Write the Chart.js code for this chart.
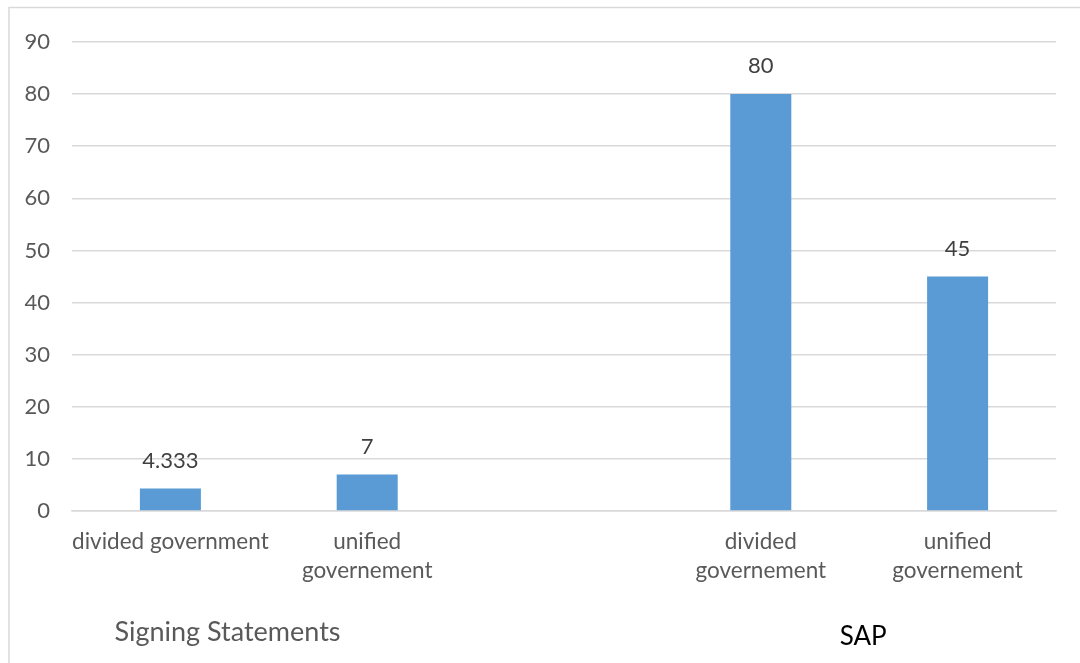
<!DOCTYPE html>
<html>
<head>
<meta charset="utf-8">
<script src="https://cdn.jsdelivr.net/npm/chart.js@4"></script>
<style>
  html, body { margin: 0; padding: 0; background: #fff; }
  #wrap { width: 1080px; height: 663px; }
</style>
</head>
<body>
<div id="wrap"><canvas id="myChart" width="1080" height="663"></canvas></div>
<script>
// category labels (middle slot is the gap between the two groups)
const categories = [
  ["divided government"],
  ["unified", "governement"],
  "",
  ["divided", "governement"],
  ["unified", "governement"],
];
const values = [4.333, 7, null, 80, 45];
const groupNames = ["Signing Statements", "SAP"];
const yTicks = [0, 10, 20, 30, 40, 50, 60, 70, 80, 90];

const FONT = "Lato, 'Noto Sans', sans-serif";

// border round the whole chart, like the Excel frame
const framePlugin = {
  id: "frame",
  beforeDraw(chart) {
    const ctx = chart.ctx;
    ctx.save();
    ctx.strokeStyle = "#d9d9d9";
    ctx.lineWidth = 1.5;
    ctx.strokeRect(9, 7.5, 1200, 800);
    ctx.restore();
  },
};

// value labels above the bars
const valueLabels = {
  id: "valueLabels",
  afterDatasetsDraw(chart) {
    const ctx = chart.ctx;
    const meta = chart.getDatasetMeta(0);
    ctx.save();
    ctx.font = "22px " + FONT;
    ctx.fillStyle = "#404040";
    ctx.textAlign = "center";
    ctx.textBaseline = "middle";
    meta.data.forEach((bar, i) => {
      if (values[i] == null) return;
      ctx.fillText(String(values[i]), bar.x, bar.y - 28);
    });
    ctx.restore();
  },
};

// group names under the category labels
const groupLabels = {
  id: "groupLabels",
  afterDraw(chart, args, opts) {
    const ctx = chart.ctx;
    const x = chart.scales.x;
    ctx.save();
    ctx.textAlign = "center";
    ctx.textBaseline = "middle";
    opts.items.forEach((g, i) => {
      ctx.font = g.size + "px " + FONT;
      ctx.fillStyle = g.color;
      ctx.fillText(groupNames[i], x.getPixelForValue(g.at), g.y);
    });
    ctx.restore();
  },
};

const data = {
  labels: categories,
  datasets: [
    {
      data: values,
      backgroundColor: "#5b9bd5",
      borderWidth: 0,
      barPercentage: 0.31,
      categoryPercentage: 1,
    },
  ],
};

const config = {
  type: "bar",
  data: data,
  plugins: [framePlugin, valueLabels, groupLabels],
  options: {
    responsive: false,
    animation: false,
    layout: { padding: { left: 0, top: 42, right: 24, bottom: 0 } },
    plugins: {
      legend: { display: false },
      tooltip: { enabled: false },
      groupLabels: {
        items: [
          { at: 0.29, y: 632, color: "#595959", size: 27 },
          { at: 3.52, y: 637, color: "#000000", size: 26 },
        ],
      },
    },
    scales: {
      x: {
        grid: { display: false },
        border: { display: true, color: "#d9d9d9", width: 1.5 },
        ticks: {
          color: "#595959",
          font: { family: FONT, size: 22.5, lineHeight: 1.3 },
          padding: 8,
          maxRotation: 0,
          autoSkip: false,
        },
        afterFit(scale) { scale.height = 152; },
      },
      y: {
        min: 0,
        max: 90,
        afterBuildTicks(scale) { scale.ticks = yTicks.map((v) => ({ value: v })); },
        grid: { color: "#d9d9d9", lineWidth: 1.5, drawTicks: false },
        border: { display: false },
        ticks: {
          color: "#595959",
          font: { family: FONT, size: 22 },
          padding: 22,
        },
        afterFit(scale) { scale.width = 72; },
      },
    },
  },
};

new Chart(document.getElementById("myChart"), config);
</script>
</body>
</html>
